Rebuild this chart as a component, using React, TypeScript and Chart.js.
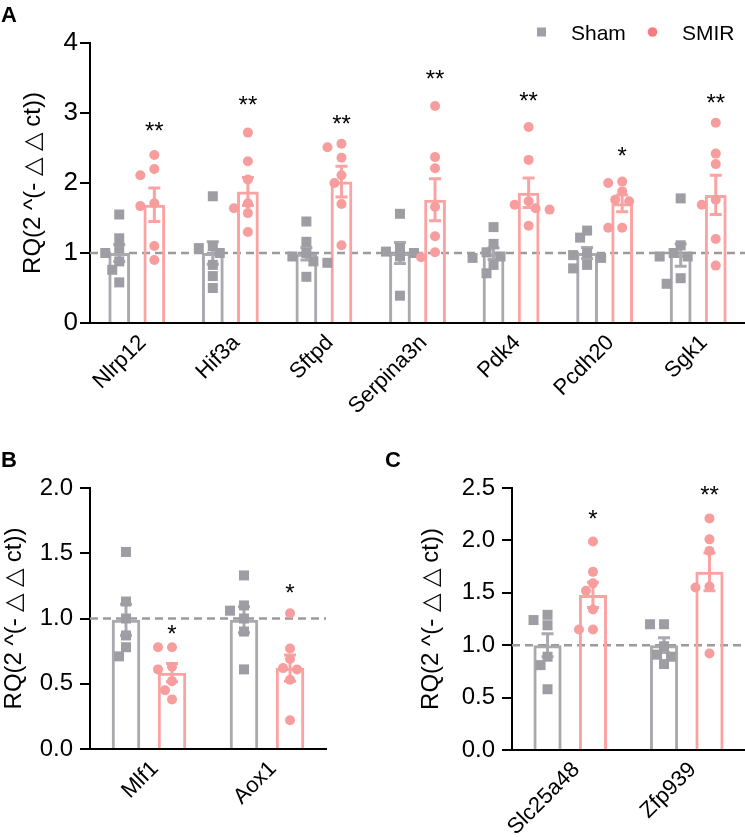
import React, { useEffect, useRef } from "react";
import { Chart, registerables } from "chart.js";

Chart.register(...registerables);

const FONT = "'Liberation Sans', Arial, Helvetica, sans-serif";
const GRAY_BAR = "#a9a9ae";
const PINK_BAR = "#fba3a3";
const GRAY_PT = "#9d9da3";
const PINK_PT = "#f89d9d";
const GRAY_LEG = "#a0a0a6";
const PINK_LEG = "#f67d7d";
const DASH = "#9b9b9b";
const Y_TITLE = "RQ(2 ^(- \u25B3 \u25B3 ct))";
const SERIES = ["Sham", "SMIR"];

// ---------- Panel A ----------
const genesA = ["Nlrp12", "Hif3a", "Sftpd", "Serpina3n", "Pdk4", "Pcdh20", "Sgk1"];
const shamMeanA = [1.0, 1.0, 0.99, 1.0, 0.99, 1.0, 0.97];
const shamSemA = [0.12, 0.16, 0.09, 0.15, 0.08, 0.08, 0.16];
const smirMeanA = [1.69, 1.88, 2.02, 1.76, 1.86, 1.71, 1.83];
const smirSemA = [0.24, 0.2, 0.22, 0.3, 0.21, 0.12, 0.28];
const shamPtsA = [
  [1.55, 1.21, 1.07, 1.0, 0.88, 0.76, 0.58],
  [1.81, 1.1, 1.07, 1.0, 0.83, 0.67, 0.5],
  [1.45, 1.16, 1.0, 0.95, 0.88, 0.86, 0.66],
  [1.56, 1.07, 1.02, 1.0, 0.98, 0.95, 0.39],
  [1.37, 1.13, 1.01, 0.95, 0.93, 0.83, 0.71],
  [1.32, 1.22, 1.0, 0.97, 0.93, 0.83, 0.78],
  [1.78, 1.11, 1.0, 0.95, 0.95, 0.64, 0.56],
];
const smirPtsA = [
  [2.4, 2.2, 2.11, 1.71, 1.67, 1.1, 0.9],
  [2.72, 2.31, 2.05, 1.71, 1.64, 1.57, 1.3],
  [2.56, 2.51, 2.36, 2.11, 2.0, 1.7, 1.11],
  [3.1, 2.37, 2.21, 1.66, 1.24, 1.01, 0.94],
  [2.8, 2.33, 1.74, 1.69, 1.64, 1.62, 1.39],
  [2.02, 2.0, 1.88, 1.76, 1.74, 1.36, 1.36],
  [2.86, 2.42, 2.27, 1.76, 1.69, 1.2, 0.82],
];
const starsA = ["**", "**", "**", "**", "**", "*", "**"];
const starYA = [2.83, 3.2, 2.93, 3.57, 3.26, 2.47, 3.23];

// ---------- Panel B ----------
const genesB = ["Mlf1", "Aox1"];
const shamMeanB = [0.99, 0.99];
const shamSemB = [0.12, 0.1];
const smirMeanB = [0.585, 0.62];
const smirSemB = [0.07, 0.1];
const shamPtsB = [
  [1.51, 1.13, 1.0, 0.87, 0.78, 0.71],
  [1.33, 1.1, 1.06, 1.0, 0.9, 0.61],
];
const smirPtsB = [
  [0.78, 0.78, 0.63, 0.61, 0.52, 0.45, 0.38],
  [1.04, 0.77, 0.69, 0.62, 0.61, 0.53, 0.22],
];
const starsB = ["*", "*"];
const starYB = [0.93, 1.24];

// ---------- Panel C ----------
const genesC = ["Slc25a48", "Zfp939"];
const shamMeanC = [1.0, 1.0];
const shamSemC = [0.11, 0.07];
const smirMeanC = [1.48, 1.7];
const smirSemC = [0.12, 0.18];
const shamPtsC = [
  [1.29, 1.24, 1.19, 0.89, 0.81, 0.58],
  [1.2, 1.2, 0.99, 0.91, 0.89, 0.82],
];
const smirPtsC = [
  [1.99, 1.7, 1.59, 1.52, 1.34, 1.15, 1.15],
  [2.21, 2.01, 1.9, 1.56, 1.55, 0.92],
];
const starsC = ["*", "**"];
const starYC = [2.26, 2.49];

type PanelProps = {
  letter: string;
  letterX: number;
  letterY: number;
  labels: string[];
  shamMean: number[];
  shamSem: number[];
  smirMean: number[];
  smirSem: number[];
  shamPts: number[][];
  smirPts: number[][];
  stars: string[];
  starY: number[];
  yMax: number;
  step: number;
  decimals: number;
  tickSize: number;
  tickPad: number;
  titlePad: number;
  left: number;
  top: number;
  width: number;
  height: number;
  padTop: number;
  padRight: number;
  yAxisW: number;
  xAxisH: number;
  catPct: number;
  legend: boolean;
};

// deterministic beeswarm: horizontal pixel offsets so markers do not pile up
function swarmOffsets(ys: number[], d: number, step: number): number[] {
  const order = ys.map((_, i) => i).sort((a, b) => ys[a] - ys[b]);
  const placed: { x: number; y: number }[] = [];
  const out = ys.map(() => 0);
  const cands = [0, -1, 1, -2, 2, -3, 3];
  for (const i of order) {
    const y = ys[i];
    let chosen = 0;
    for (const c of cands) {
      const x = c * step;
      if (placed.every((p) => Math.hypot(p.x - x, p.y - y) >= d)) {
        chosen = x;
        break;
      }
    }
    out[i] = chosen;
    placed.push({ x: chosen, y });
  }
  return out;
}

function Panel(p: PanelProps) {
  const ref = useRef<HTMLCanvasElement>(null);
  useEffect(() => {
    const canvas = ref.current;
    if (!canvas) return;

    const sems = [p.shamSem, p.smirSem];
    const means = [p.shamMean, p.smirMean];
    const pts = [p.shamPts, p.smirPts];
    const barCols = [GRAY_BAR, PINK_BAR];
    const ptCols = [GRAY_PT, PINK_PT];

    const overlay = {
      id: "overlay",
      beforeDatasetsDraw(chart: any) {
        const { ctx, chartArea, scales } = chart;
        const y = scales.y.getPixelForValue(1);
        ctx.save();
        ctx.strokeStyle = DASH;
        ctx.lineWidth = 2.5;
        ctx.setLineDash([8, 5]);
        ctx.beginPath();
        ctx.moveTo(chartArea.left, y);
        ctx.lineTo(chartArea.right, y);
        ctx.stroke();
        ctx.restore();
      },
      afterDatasetsDraw(chart: any) {
        const { ctx, scales } = chart;
        ctx.save();
        // error bars (mean ± SEM)
        for (let s = 0; s < 2; s++) {
          const meta = chart.getDatasetMeta(s);
          ctx.strokeStyle = barCols[s];
          ctx.lineWidth = 3;
          meta.data.forEach((el: any, j: number) => {
            const m = means[s][j];
            const e = sems[s][j];
            const yt = scales.y.getPixelForValue(m + e);
            const yb = scales.y.getPixelForValue(m - e);
            const cap = 6;
            ctx.beginPath();
            ctx.moveTo(el.x, yt);
            ctx.lineTo(el.x, yb);
            ctx.moveTo(el.x - cap, yt);
            ctx.lineTo(el.x + cap, yt);
            ctx.moveTo(el.x - cap, yb);
            ctx.lineTo(el.x + cap, yb);
            ctx.stroke();
          });
        }
        // individual data points
        for (let s = 0; s < 2; s++) {
          const meta = chart.getDatasetMeta(s);
          ctx.fillStyle = ptCols[s];
          meta.data.forEach((el: any, j: number) => {
            const ys = pts[s][j].map((v: number) => scales.y.getPixelForValue(v));
            const offs = swarmOffsets(ys, 9.5, 7);
            ys.forEach((y: number, k: number) => {
              const x = el.x + offs[k];
              ctx.beginPath();
              if (s === 0) {
                ctx.rect(x - 5, y - 5, 10, 10);
              } else {
                ctx.arc(x, y, 5, 0, Math.PI * 2);
              }
              ctx.fill();
            });
          });
        }
        ctx.restore();
      },
      afterDraw(chart: any) {
        const { ctx, scales } = chart;
        ctx.save();
        // significance stars
        const meta = chart.getDatasetMeta(1);
        ctx.fillStyle = "#000";
        ctx.font = `24px ${FONT}`;
        ctx.textAlign = "center";
        ctx.textBaseline = "alphabetic";
        p.stars.forEach((s, j) => {
          const el = meta.data[j];
          const y = scales.y.getPixelForValue(p.starY[j]);
          ctx.fillText(s, el.x, y + 14);
        });
        // panel letter
        ctx.font = `bold 22px ${FONT}`;
        ctx.textAlign = "left";
        ctx.fillText(p.letter, p.letterX, p.letterY);
        // legend
        if (p.legend) {
          const ly = 32;
          ctx.fillStyle = GRAY_LEG;
          ctx.fillRect(537, ly - 4.5, 9, 9);
          ctx.fillStyle = PINK_LEG;
          ctx.beginPath();
          ctx.arc(652.5, ly, 4.8, 0, Math.PI * 2);
          ctx.fill();
          ctx.fillStyle = "#000";
          ctx.font = `21px ${FONT}`;
          ctx.textBaseline = "alphabetic";
          ctx.fillText(SERIES[0], 571, ly + 7.5);
          ctx.fillText(SERIES[1], 682, ly + 7.5);
        }
        ctx.restore();
      },
    };

    const chart = new Chart(canvas, {
      type: "bar",
      data: {
        labels: p.labels,
        datasets: [
          {
            label: SERIES[0],
            data: p.shamMean,
            borderColor: GRAY_BAR,
            backgroundColor: "rgba(255,255,255,0)",
            borderWidth: 3,
            borderSkipped: "start",
          },
          {
            label: SERIES[1],
            data: p.smirMean,
            borderColor: PINK_BAR,
            backgroundColor: "rgba(255,255,255,0)",
            borderWidth: 3,
            borderSkipped: "start",
          },
        ],
      },
      options: {
        responsive: false,
        maintainAspectRatio: false,
        animation: false,
        events: [],
        categoryPercentage: p.catPct,
        barPercentage: 0.62,
        layout: { padding: { top: p.padTop, right: p.padRight, left: 0, bottom: 0 } },
        plugins: { legend: { display: false }, tooltip: { enabled: false } },
        scales: {
          x: {
            type: "category",
            offset: true,
            grid: { display: false, drawTicks: false },
            border: { display: true, color: "#000", width: 2 },
            ticks: {
              color: "#000",
              font: { family: FONT, size: 22 },
              minRotation: 45,
              maxRotation: 45,
              padding: 7,
              labelOffset: 6,
              autoSkip: false,
            },
            afterFit: (s: any) => {
              s.height = p.xAxisH;
            },
          },
          y: {
            min: 0,
            max: p.yMax,
            ticks: {
              stepSize: p.step,
              color: "#000",
              font: { family: FONT, size: p.tickSize },
              padding: p.tickPad,
              callback: (v: any) => Number(v).toFixed(p.decimals),
            },
            grid: { drawOnChartArea: false, drawTicks: true, tickLength: 10, color: "#000", lineWidth: 2 },
            border: { display: true, color: "#000", width: 2 },
            title: {
              display: true,
              text: Y_TITLE,
              color: "#000",
              font: { family: FONT, size: 24 },
              padding: { top: p.titlePad, bottom: 0 },
            },
            afterFit: (s: any) => {
              s.width = p.yAxisW;
            },
          },
        },
      } as any,
      plugins: [overlay],
    } as any);
    return () => chart.destroy();
  }, []);
  return (
    <canvas
      ref={ref}
      width={p.width}
      height={p.height}
      style={{ position: "absolute", left: p.left, top: p.top, width: p.width, height: p.height }}
    />
  );
}

export default function App() {
  return (
    <div style={{ position: "absolute", left: 0, top: 0, width: 745, height: 837, background: "#fff", overflow: "hidden" }}>
      <Panel
        letter="A" letterX={1} letterY={22}
        labels={genesA} shamMean={shamMeanA} shamSem={shamSemA} smirMean={smirMeanA} smirSem={smirSemA}
        shamPts={shamPtsA} smirPts={smirPtsA} stars={starsA} starY={starYA}
        yMax={4} step={1} decimals={0} tickSize={26} tickPad={2} titlePad={19}
        left={0} top={0} width={745} height={428} padTop={43} padRight={0} yAxisW={90} xAxisH={105}
        catPct={0.75} legend={true}
      />
      <Panel
        letter="B" letterX={1} letterY={37}
        labels={genesB} shamMean={shamMeanB} shamSem={shamSemB} smirMean={smirMeanB} smirSem={smirSemB}
        shamPts={shamPtsB} smirPts={smirPtsB} stars={starsB} starY={starYB}
        yMax={2} step={0.5} decimals={1} tickSize={24} tickPad={7} titlePad={0}
        left={0} top={430} width={372} height={407} padTop={58} padRight={46} yAxisW={90} xAxisH={88}
        catPct={0.78} legend={false}
      />
      <Panel
        letter="C" letterX={13} letterY={37}
        labels={genesC} shamMean={shamMeanC} shamSem={shamSemC} smirMean={smirMeanC} smirSem={smirSemC}
        shamPts={shamPtsC} smirPts={smirPtsC} stars={starsC} starY={starYC}
        yMax={2.5} step={0.5} decimals={1} tickSize={24} tickPad={7} titlePad={45}
        left={372} top={430} width={373} height={407} padTop={58} padRight={0} yAxisW={140} xAxisH={87}
        catPct={0.78} legend={false}
      />
    </div>
  );
}
